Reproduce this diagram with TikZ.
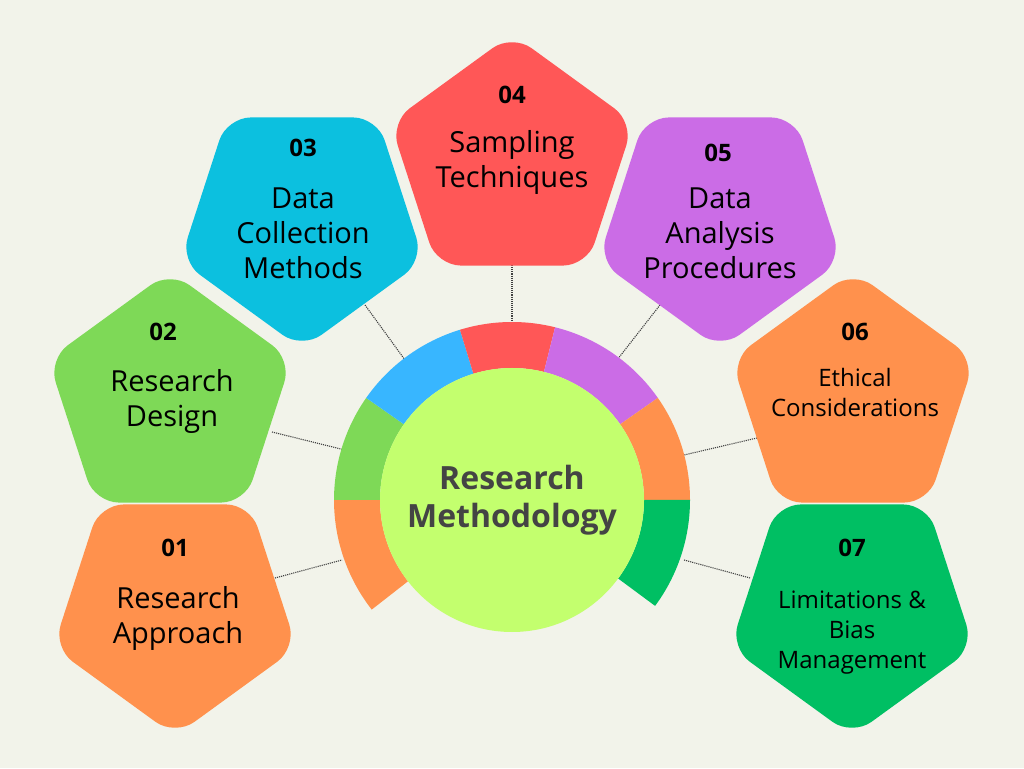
\documentclass[tikz,border=0pt]{standalone}
\usepackage{fontspec}
\setmainfont{Open Sans}
\usetikzlibrary{shapes.geometric}
\definecolor{bg}{HTML}{F2F3EA}
\definecolor{cOr}{HTML}{FF914D}
\definecolor{cGr}{HTML}{7ED957}
\definecolor{cCy}{HTML}{0CC0DF}
\definecolor{cBl}{HTML}{38B6FF}
\definecolor{cRd}{HTML}{FF5757}
\definecolor{cPu}{HTML}{CB6CE6}
\definecolor{cDg}{HTML}{00BF63}
\definecolor{cLg}{HTML}{C3FF6E}
\definecolor{txt}{HTML}{444444}
\tikzset{
  pent/.style={regular polygon, regular polygon sides=5, minimum size=256pt, inner sep=0pt, rounded corners=24pt, draw=none},
  down/.style={shape border rotate=180},
  num/.style={font=\bfseries\fontsize{24}{28}\selectfont, text=black},
  lab/.style={font=\fontsize{29}{35}\selectfont, align=center, text=black},
  slab/.style={font=\fontsize{24}{30}\selectfont, align=center, text=black},
  conn/.style={draw=black!75, densely dotted, line width=1.1pt}
}
\newcommand{\seg}[3]{\fill[#3] (512,268) ++(#1:178) arc[start angle=#1, end angle=#2, radius=178] -- ++(#2:-46) arc[start angle=#2, end angle=#1, radius=132] -- cycle;}
\begin{document}
\begin{tikzpicture}[x=1pt,y=1pt]
\fill[bg] (0,0) rectangle (1024,768);
\useasboundingbox (0,0) rectangle (1024,768);
% connectors
\coordinate (p1) at (275,190); \coordinate (r1) at (342,208);
\coordinate (p2) at (272,336); \coordinate (r2) at (345,318);
\coordinate (p3) at (365,463); \coordinate (r3) at (405,408);
\coordinate (p4) at (512,505); \coordinate (r4) at (512,440);
\coordinate (p5) at (660,463); \coordinate (r5) at (617,408);
\coordinate (p6) at (757,330); \coordinate (r6) at (684,313);
\coordinate (p7) at (750,190); \coordinate (r7) at (684,208);
\foreach \i in {1,...,7} \draw[conn] (p\i) -- (r\i);
% pentagons
\node[pent, down, fill=cOr] (s1) at (175,160) {};
\node[pent, fill=cGr] (s2) at (170,369) {};
\node[pent, down, fill=cCy] (s3) at (302,547) {};
\node[pent, fill=cRd] (s4) at (512,606) {};
\node[pent, down, fill=cPu] (s5) at (720,547) {};
\node[pent, fill=cOr] (s6) at (853,369) {};
\node[pent, down, fill=cDg] (s7) at (852,160) {};
% ring
\seg{180}{218}{cOr}
\seg{145}{180}{cGr}
\seg{107}{145}{cBl}
\seg{76}{107}{cRd}
\seg{35}{76}{cPu}
\seg{0}{35}{cOr}
\seg{-36.5}{0}{cDg}
\node[circle, fill=cLg, minimum size=264pt, inner sep=0pt] (c) at (512,268) {};
\node[font=\bfseries\fontsize{32}{38}\selectfont, text=txt, align=center] (ct) at (512,268) {Research\\Methodology};
% texts
\node[num] (n1) at (175,220) {01};
\node[lab] (l1) at (178,150) {Research\\Approach};
\node[num] (n2) at (163,436) {02};
\node[lab] (l2) at (172,367) {Research\\Design};
\node[num] (n3) at (303,620) {03};
\node[lab] (l3) at (303,535) {Data\\Collection\\Methods};
\node[num] (n4) at (512,673) {04};
\node[lab] (l4) at (512,606) {Sampling\\Techniques};
\node[num] (n5) at (718,615) {05};
\node[lab] (l5) at (720,535) {Data\\Analysis\\Procedures};
\node[num] (n6) at (855,436) {06};
\node[slab] (l6) at (855,375) {Ethical\\Considerations};
\node[num] (n7) at (852,220) {07};
\node[slab] (l7) at (852,135) {Limitations \&\\Bias\\Management};
\end{tikzpicture}
\end{document}
